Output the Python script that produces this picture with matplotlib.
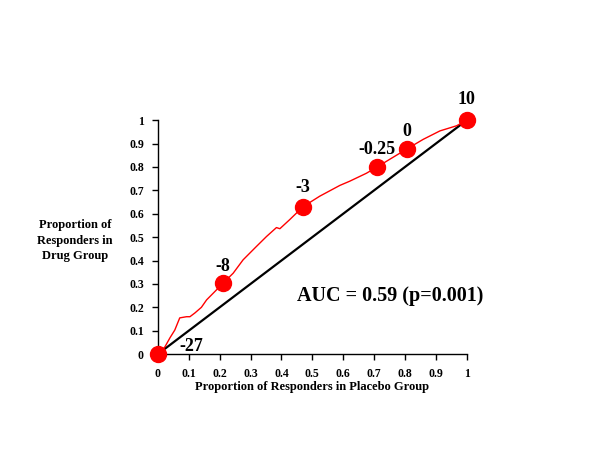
import matplotlib.pyplot as plt

plt.rcParams['font.family'] = ['Liberation Serif', 'DejaVu Serif']
plt.rcParams['font.weight'] = 'bold'

# red curve (proportion placebo vs proportion drug)
curve_x = [0.0, 0.004, 0.023, 0.039, 0.055, 0.071, 0.093, 0.104, 0.120, 0.141, 0.158, 0.179,
           0.211, 0.244, 0.276, 0.319, 0.352, 0.384, 0.395, 0.427, 0.470, 0.524, 0.589,
           0.621, 0.675, 0.710, 0.751, 0.805, 0.859, 0.913, 0.967, 1.0]
curve_y = [0.0, 0.0, 0.031, 0.069, 0.103, 0.155, 0.160, 0.160, 0.176, 0.200, 0.232, 0.260,
           0.303, 0.346, 0.403, 0.460, 0.503, 0.541, 0.536, 0.575, 0.630, 0.675, 0.721,
           0.739, 0.773, 0.800, 0.833, 0.876, 0.918, 0.954, 0.976, 1.0]

# marked cut-off points
pt_x = [0.0, 0.211, 0.470, 0.710, 0.805, 1.0]
pt_y = [0.0, 0.303, 0.630, 0.800, 0.876, 1.0]
pt_labels = ['-27', '-8', '-3', '-0.25', '0', '10']
pt_offsets = [(34, 8), (0, 17), (0, 19), (0, 17), (0, 18), (0, 21)]

ticks = [0, 0.1, 0.2, 0.3, 0.4, 0.5, 0.6, 0.7, 0.8, 0.9, 1]
tick_labels = ['0', '0.1', '0.2', '0.3', '0.4', '0.5', '0.6', '0.7', '0.8', '0.9', '1']

fig = plt.figure(figsize=(6, 4.5), dpi=100)
ax = fig.add_axes([0.263, 0.213, 0.515, 0.52])

ax.plot([0, 1], [0, 1], color='black', lw=1.6, zorder=2)
ax.plot(curve_x, curve_y, color='red', lw=1.0, zorder=3)
ax.plot(pt_x, pt_y, 'o', color='red', markersize=11.5, clip_on=False, zorder=4)

for x, y, lab, off in zip(pt_x, pt_y, pt_labels, pt_offsets):
    ax.annotate(lab, (x, y), xytext=off, textcoords='offset pixels',
                ha='center', va='center', fontsize=13, fontweight='bold')

ax.text(0.45, 0.248, 'AUC = 0.59 (p=0.001)', fontsize=14.5, fontweight='bold',
        ha='left', va='center')

ax.set_xlim(0, 1)
ax.set_ylim(0, 1)
ax.set_xticks(ticks)
ax.set_xticklabels(tick_labels)
ax.set_yticks(ticks)
ax.set_yticklabels(tick_labels)
ax.tick_params(labelsize=8.5, length=4, width=1, direction='out', pad=6)
for s in ['top', 'right']:
    ax.spines[s].set_visible(False)
ax.spines['left'].set_linewidth(1)
ax.spines['bottom'].set_linewidth(1)

ax.set_xlabel('Proportion of Responders in Placebo Group', fontsize=9,
              fontweight='bold', labelpad=1)
fig.text(0.125, 0.465, 'Proportion of\nResponders in\nDrug Group', fontsize=9,
         fontweight='bold', ha='center', va='center', linespacing=1.4)

fig.savefig('out.png', dpi=100)
